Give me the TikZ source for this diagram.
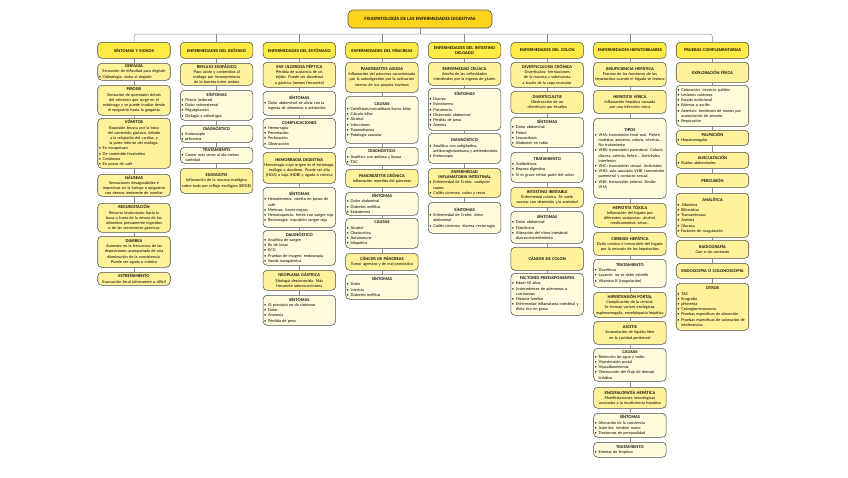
\documentclass[tikz,border=0pt]{standalone}
\usepackage{fontspec}
\setmainfont{Lato}
\definecolor{rootc}{HTML}{FFD41C}
\definecolor{hdrc}{HTML}{FFEB45}
\definecolor{titc}{HTML}{FFF29A}
\definecolor{listc}{HTML}{FFFBDD}
\definecolor{bordc}{HTML}{4D4D4D}
\definecolor{connc}{HTML}{8C8C8C}
\newcommand\fsz{\fontsize{3.9}{5.2}\selectfont\hyphenpenalty=10000\exhyphenpenalty=10000}
\newcommand\myT[1]{{\bfseries #1}\par}
\newcommand\myB[1]{{\leftskip=0pt\rightskip=0pt plus 1fil\parfillskip=0pt plus 1fil\hangindent=4pt\hangafter=1\noindent\makebox[4pt][l]{\textbullet}#1\par}}
\tikzset{
  base/.style={draw=bordc, line width=0.55pt, rounded corners=4pt, align=center,
    text width=70.5pt, inner xsep=1pt, inner ysep=1pt, font=\fsz, anchor=north},
  hdr/.style={base, fill=hdrc, minimum height=16pt, font=\fsz\bfseries},
  tbox/.style={base, fill=titc},
  lbox/.style={base, fill=listc},
  conn/.style={draw=connc, line width=0.5pt},
}
\def\cA{134}\def\cB{216.6}\def\cC{299.3}\def\cD{381.9}
\def\cE{464.6}\def\cF{547.2}\def\cG{629.9}\def\cH{712.5}
\begin{document}
\begin{tikzpicture}[x=1pt,y=-1pt]
\fill[white] (0,0) rectangle (848,477);
\useasboundingbox (0,0) rectangle (848,477);
% root
\node[draw=bordc, line width=0.6pt, rounded corners=5pt, fill=rootc, minimum width=144pt, minimum height=18pt, font=\fontsize{4.3}{5}\selectfont\bfseries] (root) at (420,19) {FISIOPATOLOGÍA DE LAS ENFERMEDADES DIGESTIVAS};
% headers
\node[hdr, minimum height=16pt] (h1) at (\cA,42) {SÍNTOMAS Y SIGNOS};
\node[hdr] (h2) at (\cB,42) {ENFERMEDADES DEL ESÓFAGO};
\node[hdr] (h3) at (\cC,42) {ENFERMEDADES DEL ESTÓMAGO};
\node[hdr] (h4) at (\cD,42) {ENFERMEDADES DEL PÁNCREAS};
\node[hdr] (h5) at (\cE,42) {ENFERMEDADES DEL INTESTINO\\DELGADO};
\node[hdr] (h6) at (\cF,42) {ENFERMEDADES DEL COLON};
\node[hdr] (h7) at (\cG,42) {ENFERMEDADES HEPATOBILIARES};
\node[hdr] (h8) at (\cH,42) {PRUEBAS COMPLEMENTARIAS};
% column 1
\node[tbox, minimum height=17pt] (a1) at (\cA,63) {\myT{DISFAGIA}Sensación de dificultad para deglutir\par\myB{Odinofagia: dolor al deglutir}};
\node[tbox, minimum height=30pt] (a2) at (\cA,85) {\myT{PIROSIS}Sensación de quemazón detrás del esternón que surge en el estómago y se puede irradiar desde el epigastrio hasta la garganta};
\node[tbox, minimum height=50pt] (a3) at (\cA,118) {\myT{VÓMITOS}Expulsión brusca por la boca del contenido gástrico, debido a la relajación del cardias, y la parte inferior del esófago.\par\myB{En escopetazo}\myB{De contenido fecaloideo}\myB{Continuos}\myB{En posos de café}};
\node[tbox, minimum height=22pt] (a4) at (\cA,174) {\myT{NÁUSEAS}Sensaciones desagradables e imprecisas en la faringe o epigastrio con deseos inminente de vomitar};
\node[tbox, minimum height=29pt] (a5) at (\cA,203) {\myT{REGURGITACIÓN}Retorno involuntario hacia la boca o fuera de la misma de los alimentos previamente ingeridos o de las secreciones gástricas};
\node[tbox, minimum height=31pt] (a6) at (\cA,236) {\myT{DIARREA}Aumento en la frecuencia de las deposiciones acompañado de una disminución de la consistencia. Puede ser aguda o crónica};
\node[tbox, minimum height=13pt] (a7) at (\cA,272) {\myT{ESTREÑIMIENTO}Evacuación fecal infrecuente o difícil};
% column 2
\node[tbox, minimum height=22pt] (b1) at (\cB,63) {\myT{REFLUJO ESOFÁGICO}Paso ácido y contenidos al esófago por incompetencia de la barrera entre ambos};
\node[lbox, minimum height=30pt] (b2) at (\cB,90) {\myT{SÍNTOMAS}\myB{Pirosis (ardores)}\myB{Dolor retroesternal}\myB{Regurgitación}\myB{Disfagia y odinofagia}};
\node[lbox, minimum height=17pt] (b3) at (\cB,125) {\myT{DIAGNÓSTICO}\myB{Endoscopia}\myB{pHmetría}};
\node[lbox, minimum height=16pt] (b4) at (\cB,147) {\myT{TRATAMIENTO}\myB{Comer más veces al día menos cantidad}};
\node[tbox, minimum height=25pt] (b5) at (\cB,168) {\myT{ESOFAGITIS}Inflamación de la mucosa esofágica sobre todo por reflujo esofágico (ERGE)};
% column 3
\node[tbox, minimum height=25pt] (c1) at (\cC,62) {\myT{ENF ULCEROSA PÉPTICA}Pérdida de sustancia de un tejido. Puede ser duodenal o gástrica (menos frecuente)};
\node[lbox, minimum height=24pt] (c2) at (\cC,91) {\myT{SÍNTOMAS}\myB{Dolor abdominal, se alivia con la ingesta de alimentos o antiácidos}};
\node[lbox, minimum height=30pt] (c3) at (\cC,118) {\myT{COMPLICACIONES}\myB{Hemorragia}\myB{Penetración}\myB{Perforación}\myB{Obstrucción}};
\node[tbox, minimum height=31pt] (c4) at (\cC,152) {\myT{HEMORRAGIA DIGESTIVA}Hemorragia cuyo origen es el estómago, esófago o duodeno. Puede ser alta (HDA) o baja (HDB) y aguda o crónica};
\node[lbox, minimum height=40pt] (c5) at (\cC,187) {\myT{SÍNTOMAS}\myB{Hematemesis: vómito en posos de café}\myB{Melenas: heces negras}\myB{Hematoquecia: heces con sangre roja}\myB{Rectorragia: expulsión sangre roja}};
\node[lbox, minimum height=35pt] (c6) at (\cC,230) {\myT{DIAGNÓSTICO}\myB{Analítica de sangre}\myB{Rx de tórax}\myB{ECG}\myB{Pruebas de imagen: endoscopia}\myB{Sonda nasogástrica}};
\node[tbox, minimum height=20pt] (c7) at (\cC,270) {\myT{NEOPLASIA GÁSTRICA}Etiología desconocida. Más frecuente adenocarcinoma};
\node[lbox, minimum height=30pt] (c8) at (\cC,295) {\myT{SÍNTOMAS}\myB{Al principio no da síntomas}\myB{Dolor}\myB{Anorexia}\myB{Pérdida de peso}};
% column 4
\node[tbox, minimum height=30pt] (d1) at (\cD,62) {\myT{PANCREATITIS AGUDA}Inflamación del páncreas caracterizada por la autodigestión por la activación interna de sus propios enzimas};
\node[lbox, minimum height=47pt] (d2) at (\cD,96) {\myT{CAUSAS}\myB{Colelitiasis/microlitiasis/barro biliar}\myB{Cálculo biliar}\myB{Alcohol}\myB{Infecciones}\myB{Traumatismos}\myB{Patología vascular}};
\node[lbox, minimum height=18pt] (d3) at (\cD,147) {\myT{DIAGNÓSTICO}\myB{Analítica con amilasa y lipasa}\myB{TAC}};
\node[tbox, minimum height=18pt] (d4) at (\cD,169) {\myT{PANCREATITIS CRÓNICA}Inflamación repetida del páncreas};
\node[lbox, minimum height=23pt] (d5) at (\cD,192) {\myT{SÍNTOMAS}\myB{Dolor abdominal}\myB{Diabetes mellitus}\myB{Esteatorrea}};
\node[lbox, minimum height=30pt] (d6) at (\cD,218) {\myT{CAUSAS}\myB{Alcohol}\myB{Obstructiva}\myB{Autoinmune}\myB{Idiopática}};
\node[tbox, minimum height=17pt] (d7) at (\cD,253) {\myT{CÁNCER DE PÁNCREAS}Tumor agresivo y de mal pronóstico};
\node[lbox, minimum height=25pt] (d8) at (\cD,274) {\myT{SÍNTOMAS}\myB{Dolor}\myB{Ictericia}\myB{Diabetes mellitus}};
% column 5
\node[tbox, minimum height=23pt] (e1) at (\cE,62) {\myT{ENFERMEDAD CELÍACA}Atrofia de las vellosidades intestinales por la ingesta de gluten};
\node[lbox, minimum height=42pt] (e2) at (\cE,88) {\myT{SÍNTOMAS}\myB{Diarrea}\myB{Esteatorrea}\myB{Flatulencia}\myB{Distensión abdominal}\myB{Pérdida de peso}\myB{Anemia}};
\node[lbox, minimum height=30pt] (e3) at (\cE,133) {\myT{DIAGNÓSTICO}\myB{Analítica con antigliadina, antitransglutaminasa y antiendomisio}\myB{Endoscopia}};
\node[tbox, minimum height=29pt] (e4) at (\cE,168) {\myT{ENFERMEDAD INFLAMATORIA INTESTINAL}\myB{Enfermedad de Crohn: cualquier tramo}\myB{Colitis ulcerosa: colon y recto}};
\node[lbox, minimum height=31pt] (e5) at (\cE,202) {\myT{SÍNTOMAS}\myB{Enfermedad de Crohn: dolor abdominal}\myB{Colitis ulcerosa: diarrea, rectorragia}};
% column 6
\node[tbox, minimum height=25pt] (f1) at (\cF,62) {\myT{DIVERTICULOSIS CRÓNICA}Divertículos: herniaciones de la mucosa y submucosa a través de la capa muscular};
\node[tbox, minimum height=22pt] (f2) at (\cF,91) {\myT{DIVERTICULITIS}Obstrucción de un divertículo por fecalito};
\node[lbox, minimum height=30pt] (f3) at (\cF,117) {\myT{SÍNTOMAS}\myB{Dolor abdominal}\myB{Fiebre}\myB{Leucocitosis}\myB{Abdomen en tabla}};
\node[lbox, minimum height=30pt] (f4) at (\cF,152) {\myT{TRATAMIENTO}\myB{Antibióticos}\myB{Reposo digestivo}\myB{Si es grave retirar parte del colon}};
\node[tbox, minimum height=20pt] (f5) at (\cF,187) {\myT{INTESTINO IRRITABLE}Enfermedad crónica. Se suele asociar con depresión y/o ansiedad};
\node[lbox, minimum height=32pt] (f6) at (\cF,211) {\myT{SÍNTOMAS}\myB{Dolor abdominal}\myB{Flatulencia}\myB{Alteración del ritmo intestinal: diarrea/estreñimiento}};
\node[tbox, minimum height=23pt] (f7) at (\cF,247) {\myT{CÁNCER DE COLON}};
\node[lbox, minimum height=42pt] (f8) at (\cF,273) {\myT{FACTORES PREDISPONENTES}\myB{Edad>50 años}\myB{Antecedentes de adenomas o carcinomas}\myB{Historia familiar}\myB{Enfermedad inflamatoria intestinal y dieta rica en grasa}};
% column 7
\node[tbox, minimum height=24pt] (g1) at (\cG,62) {\myT{INSUFICIENCIA HEPÁTICA}Fracaso de las funciones de los hepatocitos cuando el hígado se lesiona};
\node[tbox, minimum height=23pt] (g2) at (\cG,90) {\myT{HEPATITIS VÍRICA}Inflamación hepática causada por una infección vírica};
\node[lbox, minimum height=80pt] (g3) at (\cG,118) {\myT{TIPOS}\myB{VHA: transmisión fecal-oral. Fiebre, malestar, anorexia, coluria, ictericia... No tratamiento}\myB{VHB: transmisión parenteral. Coluria, diarrea, astenia, fiebre... Antivirales, interferón}\myB{VHC: transmisión sexual. Antivirales}\myB{VHD: solo asociado VHB, transmisión parenteral y contacto sexual}\myB{VHE: transmisión enteral. Similar VHA}};
\node[tbox, minimum height=24pt] (g4) at (\cG,203) {\myT{HEPATITIS TÓXICA}Inflamación del hígado por diferentes sustancias: alcohol, medicamentos, setas...};
\node[tbox, minimum height=23pt] (g5) at (\cG,232) {\myT{CIRROSIS HEPÁTICA}Daño crónico e irreversible del hígado por la necrosis de los hepatocitos};
\node[lbox, minimum height=28pt] (g6) at (\cG,259) {\myT{TRATAMIENTO}\myB{Diuréticos}\myB{Laxante: no se debe estreñir}\myB{Vitamina K (coagulación)}};
\node[tbox, minimum height=25pt] (g7) at (\cG,292) {\myT{HIPERTENSIÓN PORTAL}Complicación de la cirrosis. Se forman varices esofágicas, esplenomegalia, encefalopatía hepática};
\node[tbox, minimum height=23pt] (g8) at (\cG,321) {\myT{ASCITIS}Acumulación de líquido libre en la cavidad peritoneal};
\node[lbox, minimum height=33pt] (g9) at (\cG,348) {\myT{CAUSAS}\myB{Retención de agua y sodio}\myB{Hipertensión portal}\myB{Hipoalbuminemia}\myB{Obstrucción del flujo de drenaje linfático}};
\node[tbox, minimum height=21pt] (g10) at (\cG,387) {\myT{ENCEFALOPATÍA HEPÁTICA}Manifestaciones neurológicas asociadas a la insuficiencia hepática};
\node[lbox, minimum height=24pt] (g11) at (\cG,413) {\myT{SÍNTOMAS}\myB{Alteración de la conciencia}\myB{Asterixis: temblor mano}\myB{Trastornos de personalidad}};
\node[lbox, minimum height=15pt] (g12) at (\cG,442) {\myT{TRATAMIENTO}\myB{Enemas de limpieza}};
% column 8
\node[tbox, minimum height=20pt] (k1) at (\cH,62) {\myT{EXPLORACIÓN FÍSICA}};
\node[lbox, minimum height=41pt] (k2) at (\cH,85) {\myB{Coloración: ictericia, palidez}\myB{Lesiones cutáneas}\myB{Estado nutricional}\myB{Edemas o ascitis}\myB{Asterixis: temblores de manos por acumulación de amonio}\myB{Respiración}};
\node[tbox, minimum height=15pt] (k3) at (\cH,130) {\myT{PALPACIÓN}\myB{Hepatomegalia}};
\node[tbox, minimum height=16pt] (k4) at (\cH,152) {\myT{AUSCULTACIÓN}\myB{Ruidos abdominales}};
\node[tbox, minimum height=14pt] (k5) at (\cH,173) {\myT{PERCUSIÓN}};
\node[tbox, minimum height=44pt] (k6) at (\cH,193) {\myT{ANALÍTICA}\myB{Albúmina}\myB{Bilirrubina}\myB{Transaminasas}\myB{Anemia}\myB{Glucosa}\myB{Factores de coagulación}};
\node[tbox, minimum height=18pt] (k7) at (\cH,240) {\myT{RADIOGRAFÍA}Con o sin contraste};
\node[tbox, minimum height=15pt] (k8) at (\cH,263) {\myT{ENDOSCOPIA O COLONOSCOPIA}};
\node[tbox, minimum height=47pt] (k9) at (\cH,283) {\myT{OTROS}\myB{TAC}\myB{Ecografía}\myB{pHmetría}\myB{Colangiorresonancia}\myB{Pruebas específicas de absorción}\myB{Pruebas específicas de valoración de intolerancias}};
% connectors
\coordinate (bus) at (420,34);
\begin{scope}[on background layer/.try]
\draw[conn, rounded corners=3pt] (h1.north) |- (bus) -| (h8.north);
\draw[conn] (root.south) -- (bus);
\foreach \h in {h2,h3,h4,h5,h6,h7} \draw[conn] (\h.north) -- (\h.north |- bus);
\foreach \a/\b in {h1/a1,a1/a2,a2/a3,a3/a4,a4/a5,a5/a6,a6/a7,
  h2/b1,b1/b2,b2/b3,b3/b4,b4/b5,
  h3/c1,c1/c2,c2/c3,c3/c4,c4/c5,c5/c6,c6/c7,c7/c8,
  h4/d1,d1/d2,d2/d3,d3/d4,d4/d5,d5/d6,d6/d7,d7/d8,
  h5/e1,e1/e2,e2/e3,e3/e4,e4/e5,
  h6/f1,f1/f2,f2/f3,f3/f4,f4/f5,f5/f6,f6/f7,f7/f8,
  h7/g1,g1/g2,g2/g3,g3/g4,g4/g5,g5/g6,g6/g7,g7/g8,g8/g9,g9/g10,g10/g11,g11/g12,
  h8/k1,k1/k2,k2/k3,k3/k4,k4/k5,k5/k6,k6/k7,k7/k8,k8/k9}
  \draw[conn] (\a.south) -- (\b.north);
\end{scope}
\end{tikzpicture}
\end{document}
